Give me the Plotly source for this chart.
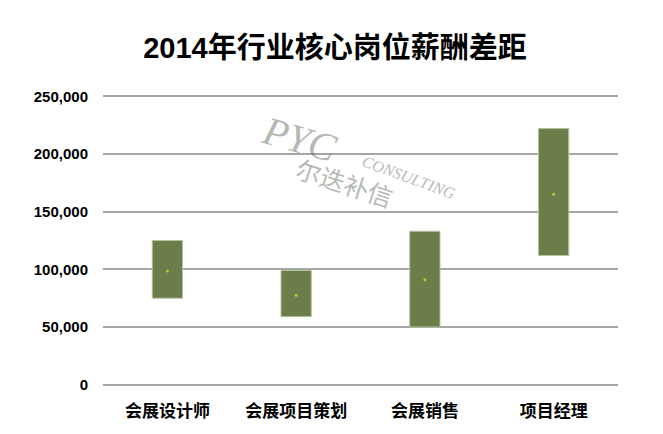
import plotly.graph_objects as go

categories = ["会展设计师", "会展项目策划", "会展销售", "项目经理"]
low_values = [75000, 59000, 50000, 112000]
high_values = [125000, 99000, 133000, 222000]
mid_values = [98500, 77500, 91000, 165000]
y_ticks = [0, 50000, 100000, 150000, 200000, 250000]
y_tick_labels = ["0", "50,000", "100,000", "150,000", "200,000", "250,000"]
title_text = "2014年行业核心岗位薪酬差距"

fig = go.Figure()
fig.add_trace(go.Bar(
    x=categories,
    y=[h - l for h, l in zip(high_values, low_values)],
    base=low_values,
    width=0.235,
    marker=dict(color="#6b7d49", line=dict(color="#b4c2a0", width=1)),
    hoverinfo="skip",
))
fig.add_trace(go.Scatter(
    x=categories, y=mid_values, mode="markers",
    marker=dict(color="#a4d23a", size=3),
))

wm_color = "rgba(105,115,105,0.5)"
fig.add_annotation(text="<i>PYC</i>", xref="paper", yref="paper", x=0.383, y=0.845,
                   xanchor="center", yanchor="middle",
                   showarrow=False, textangle=16,
                   font=dict(family="Liberation Serif, serif", size=40, color=wm_color))
fig.add_annotation(text="<i>CONSULTING</i>", xref="paper", yref="paper", x=0.595, y=0.716,
                   xanchor="center", yanchor="middle",
                   showarrow=False, textangle=20,
                   font=dict(family="Liberation Serif, serif", size=16, color=wm_color))
fig.add_annotation(text="尔迭补信", xref="paper", yref="paper", x=0.47, y=0.70,
                   xanchor="center", yanchor="middle",
                   showarrow=False, textangle=18,
                   font=dict(family="Noto Sans CJK SC", size=25, color=wm_color))

fig.update_layout(
    width=663, height=434,
    margin=dict(l=95, r=53, t=86, b=55),
    paper_bgcolor="white", plot_bgcolor="white",
    showlegend=False,
    title=dict(text="<b>" + title_text + "</b>", x=(327) / 663, xanchor="center",
               y=1 - 40 / 434, yanchor="middle",
               font=dict(family="Liberation Sans, Noto Sans CJK SC", size=29, color="black")),
    xaxis=dict(showgrid=False, showline=False, ticks="", ticklabelstandoff=12,
               tickfont=dict(family="Noto Sans CJK SC", size=17, color="black", weight="bold")),
    yaxis=dict(range=[-2000, 252000], tickvals=y_ticks, ticktext=y_tick_labels,
               showgrid=True, gridcolor="#a6a6a6", gridwidth=2, zeroline=False,
               showline=False, ticks="", ticklabelstandoff=14,
               tickfont=dict(family="Liberation Sans", size=15, color="black", weight="bold")),
)

fig.write_html("out.html")
